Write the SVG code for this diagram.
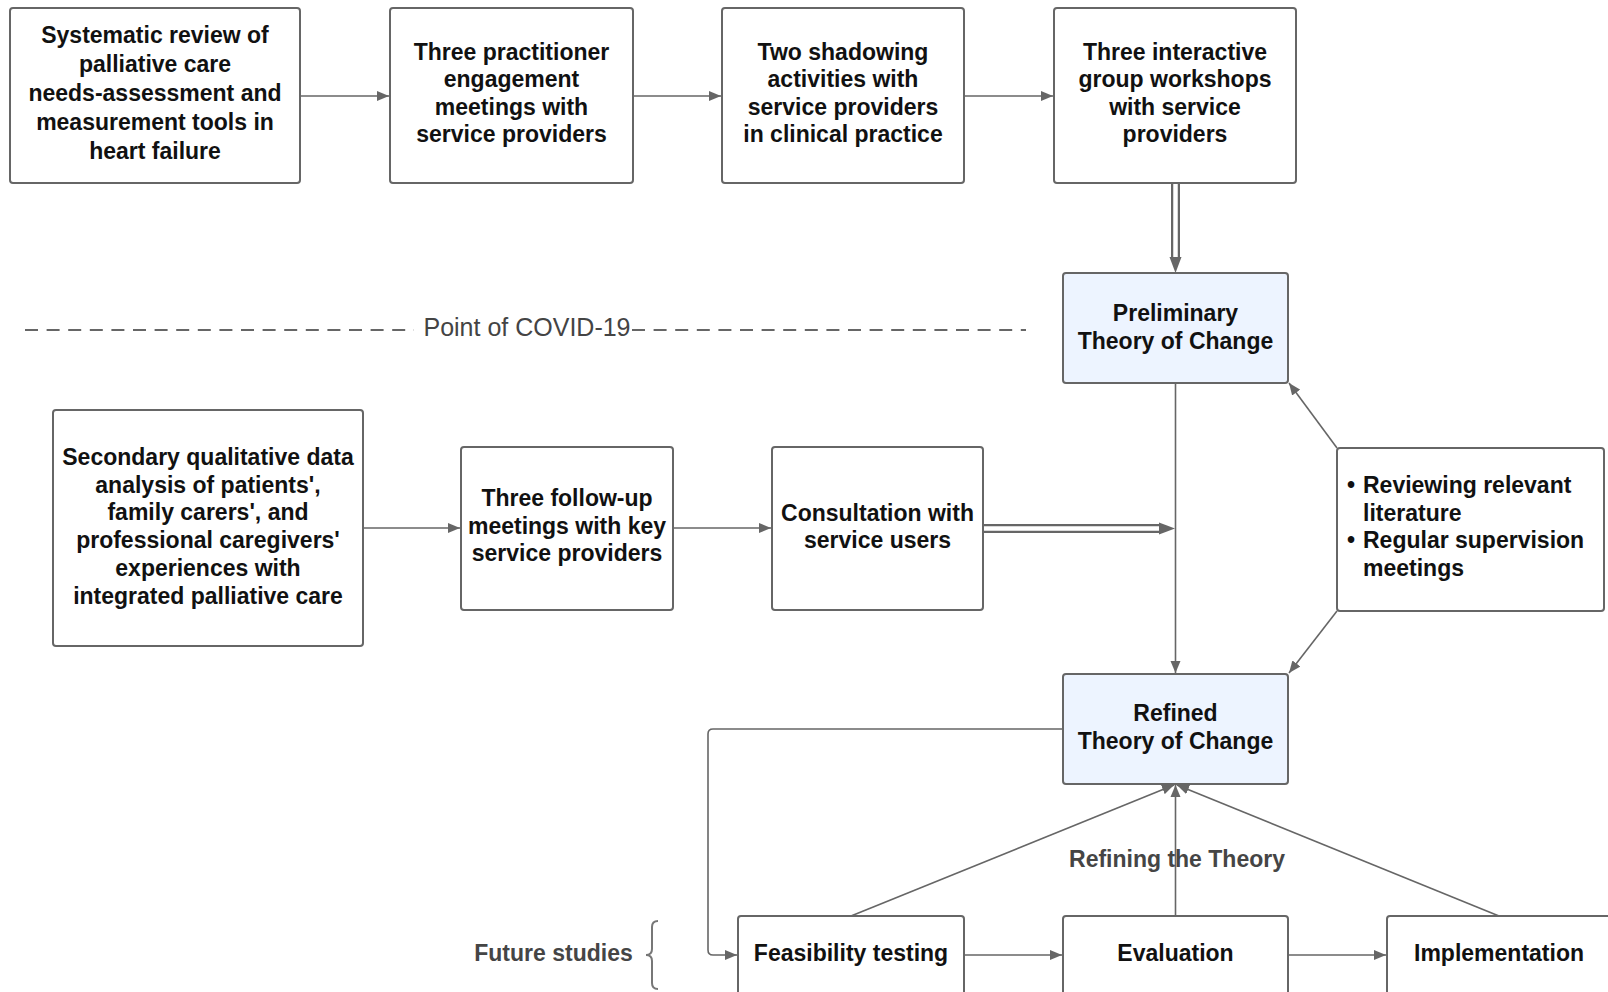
<svg xmlns="http://www.w3.org/2000/svg" width="1608" height="992" viewBox="0 0 1608 992">
  <style>
    .box { fill: #ffffff; stroke: #666666; stroke-width: 2; }
    .toc { fill: #edf4ff; stroke: #666666; stroke-width: 2; }
    .t { font-family: "Liberation Sans", Arial, sans-serif; font-size: 23px; font-weight: bold; fill: #111111; text-anchor: middle; }
    .tl { font-family: "Liberation Sans", Arial, sans-serif; font-size: 23px; font-weight: bold; fill: #111111; }
    .lbl { font-family: "Liberation Sans", Arial, sans-serif; font-size: 23px; font-weight: bold; fill: #454545; text-anchor: middle; }
    .covid { font-family: "Liberation Sans", Arial, sans-serif; font-size: 25px; fill: #444444; text-anchor: middle; }
    .c { fill: none; stroke: #666666; stroke-width: 1.6; }
    .dbl-o { fill: none; stroke: #666666; stroke-width: 9; }
    .dbl-i { fill: none; stroke: #ffffff; stroke-width: 4.5; }
    .head { fill: #666666; }
  </style>
  <defs>
    <marker id="arr" markerUnits="userSpaceOnUse" markerWidth="13" markerHeight="11" refX="12" refY="5.5" orient="auto">
      <path d="M0,0.5 L12,5.5 L0,10.5 z" fill="#666666"/>
    </marker>
  </defs>

  <rect width="1608" height="992" fill="#ffffff"/>

  <!-- connectors -->
  <g id="connectors">
    <!-- top row -->
    <path class="c" d="M300,96 H389" marker-end="url(#arr)"/>
    <path class="c" d="M633,96 H721" marker-end="url(#arr)"/>
    <path class="c" d="M964,96 H1053" marker-end="url(#arr)"/>
    <!-- double arrow: workshops to preliminary ToC -->
    <path class="dbl-o" d="M1175.5,183 V258"/>
    <path class="dbl-i" d="M1175.5,183 V259"/>
    <path class="head" d="M1169.5,257 L1181.5,257 L1175.5,273 z"/>
    <!-- COVID divider -->
    <path d="M25,330 H414 M632,330 H1026" fill="none" stroke="#666666" stroke-width="2" stroke-dasharray="13 8.6"/>
    <!-- preliminary to refined -->
    <path class="c" d="M1175.5,383 V673" marker-end="url(#arr)"/>
    <!-- middle row -->
    <path class="c" d="M363,528 H460" marker-end="url(#arr)"/>
    <path class="c" d="M673,528 H771" marker-end="url(#arr)"/>
    <!-- double arrow: consultation to the vertical line -->
    <path class="dbl-o" d="M983,528.5 H1161"/>
    <path class="dbl-i" d="M983,528.5 H1162"/>
    <path class="head" d="M1159,522.5 L1159,534.5 L1175,528.5 z"/>
    <!-- supervision box to both ToC boxes -->
    <path class="c" d="M1337,448 L1289,383" marker-end="url(#arr)"/>
    <path class="c" d="M1337,611 L1289,673" marker-end="url(#arr)"/>
    <!-- loop from refined ToC to feasibility testing -->
    <path class="c" d="M1063,729 H713 Q708,729 708,734 V950 Q708,955 713,955 H737" marker-end="url(#arr)"/>
    <!-- bottom row -->
    <path class="c" d="M964,955 H1062" marker-end="url(#arr)"/>
    <path class="c" d="M1288,955 H1386" marker-end="url(#arr)"/>
    <!-- refining the theory -->
    <path class="c" d="M851,916 L1174,785" marker-end="url(#arr)"/>
    <path class="c" d="M1175.5,916 V785" marker-end="url(#arr)"/>
    <path class="c" d="M1499,916 L1177,785" marker-end="url(#arr)"/>
    <!-- future studies brace -->
    <path d="M658,921 Q652,921 652,927 V949 Q652,955 646,955 Q652,955 652,961 V983 Q652,989 658,989" fill="none" stroke="#777777" stroke-width="2"/>
  </g>

  <g id="covid-label">
    <text class="covid" x="527" y="336">Point of COVID-19</text>
  </g>

  <g id="systematic-review">
    <rect class="box" x="10" y="8" width="290" height="175" rx="3"/>
    <text class="t" x="155" y="43">Systematic review of</text>
    <text class="t" x="155" y="72">palliative care</text>
    <text class="t" x="155" y="101">needs-assessment and</text>
    <text class="t" x="155" y="130">measurement tools in</text>
    <text class="t" x="155" y="159">heart failure</text>
  </g>

  <g id="engagement-meetings">
    <rect class="box" x="390" y="8" width="243" height="175" rx="3"/>
    <text class="t" x="511.5" y="59.5">Three practitioner</text>
    <text class="t" x="511.5" y="87">engagement</text>
    <text class="t" x="511.5" y="114.5">meetings with</text>
    <text class="t" x="511.5" y="142">service providers</text>
  </g>

  <g id="shadowing">
    <rect class="box" x="722" y="8" width="242" height="175" rx="3"/>
    <text class="t" x="843" y="59.5">Two shadowing</text>
    <text class="t" x="843" y="87">activities with</text>
    <text class="t" x="843" y="114.5">service providers</text>
    <text class="t" x="843" y="142">in clinical practice</text>
  </g>

  <g id="workshops">
    <rect class="box" x="1054" y="8" width="242" height="175" rx="3"/>
    <text class="t" x="1175" y="59.5">Three interactive</text>
    <text class="t" x="1175" y="87">group workshops</text>
    <text class="t" x="1175" y="114.5">with service</text>
    <text class="t" x="1175" y="142">providers</text>
  </g>

  <g id="preliminary-toc">
    <rect class="toc" x="1063" y="273" width="225" height="110" rx="3"/>
    <text class="t" x="1175.5" y="321">Preliminary</text>
    <text class="t" x="1175.5" y="348.5">Theory of Change</text>
  </g>

  <g id="secondary-analysis">
    <rect class="box" x="53" y="410" width="310" height="236" rx="3"/>
    <text class="t" x="208" y="465">Secondary qualitative data</text>
    <text class="t" x="208" y="492.7">analysis of patients',</text>
    <text class="t" x="208" y="520.4">family carers', and</text>
    <text class="t" x="208" y="548.1">professional caregivers'</text>
    <text class="t" x="208" y="575.8">experiences with</text>
    <text class="t" x="208" y="603.5">integrated palliative care</text>
  </g>

  <g id="follow-up-meetings">
    <rect class="box" x="461" y="447" width="212" height="163" rx="3"/>
    <text class="t" x="567" y="506">Three follow-up</text>
    <text class="t" x="567" y="533.5">meetings with key</text>
    <text class="t" x="567" y="561">service providers</text>
  </g>

  <g id="consultation">
    <rect class="box" x="772" y="447" width="211" height="163" rx="3"/>
    <text class="t" x="877.5" y="520.5">Consultation with</text>
    <text class="t" x="877.5" y="548">service users</text>
  </g>

  <g id="literature-supervision">
    <rect class="box" x="1337" y="448" width="267" height="163" rx="3"/>
    <text class="tl" x="1347" y="493">•</text>
    <text class="tl" x="1363" y="493">Reviewing relevant</text>
    <text class="tl" x="1363" y="520.5">literature</text>
    <text class="tl" x="1347" y="548">•</text>
    <text class="tl" x="1363" y="548">Regular supervision</text>
    <text class="tl" x="1363" y="575.5">meetings</text>
  </g>

  <g id="refined-toc">
    <rect class="toc" x="1063" y="674" width="225" height="110" rx="3"/>
    <text class="t" x="1175.5" y="721">Refined</text>
    <text class="t" x="1175.5" y="748.5">Theory of Change</text>
  </g>

  <g id="refining-label">
    <text class="lbl" x="1177" y="867">Refining the Theory</text>
  </g>

  <g id="future-studies-label">
    <text class="lbl" x="553.5" y="961">Future studies</text>
  </g>

  <g id="feasibility">
    <rect class="box" x="738" y="916" width="226" height="100" rx="3"/>
    <text class="t" x="851" y="961">Feasibility testing</text>
  </g>

  <g id="evaluation">
    <rect class="box" x="1063" y="916" width="225" height="100" rx="3"/>
    <text class="t" x="1175.5" y="961">Evaluation</text>
  </g>

  <g id="implementation">
    <rect class="box" x="1387" y="916" width="226" height="100" rx="3"/>
    <text class="t" x="1499" y="961">Implementation</text>
  </g>
</svg>
